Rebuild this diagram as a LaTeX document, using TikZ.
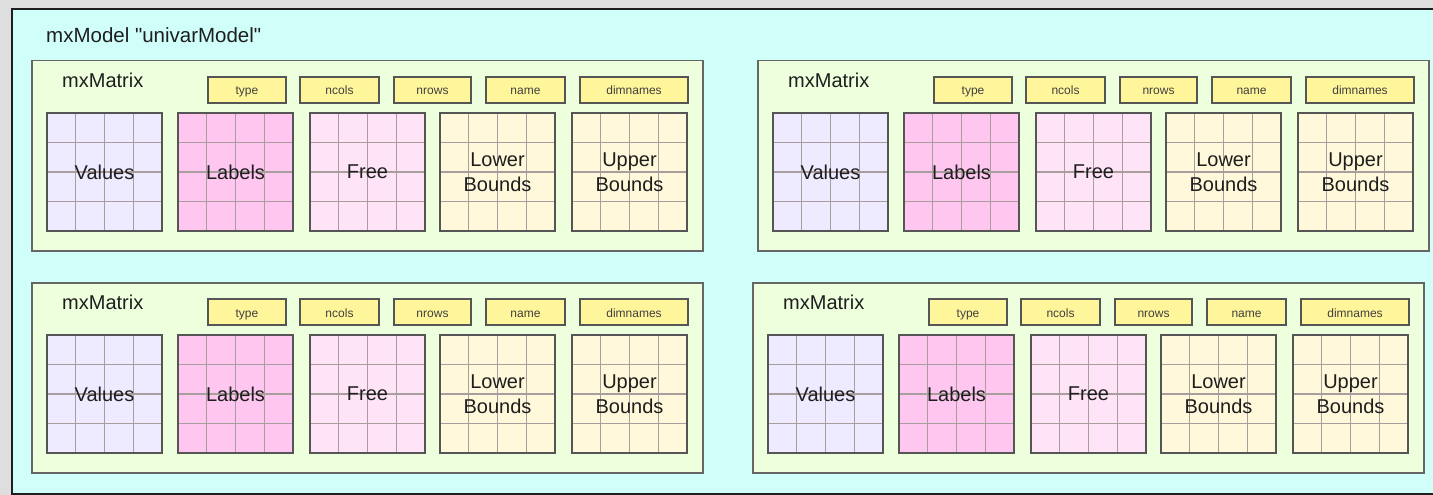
\documentclass[tikz,border=0pt]{standalone}
\usepackage{fontspec}
\setmainfont{Liberation Sans}
\usetikzlibrary{calc}

\definecolor{pagebg}{HTML}{DEDEDE}
\definecolor{modelbg}{HTML}{D0FFFA}
\definecolor{panelbg}{HTML}{EEFFDD}
\definecolor{attrbg}{HTML}{FFF59A}
\definecolor{valbg}{HTML}{EEEAFF}
\definecolor{labbg}{HTML}{FFC6F0}
\definecolor{freebg}{HTML}{FFE4F8}
\definecolor{boundbg}{HTML}{FFF8DA}
\definecolor{cellgray}{HTML}{A89E9E}
\definecolor{boxgray}{HTML}{555555}
\definecolor{inkgray}{HTML}{1E1E1E}

\begin{document}
\begin{tikzpicture}[x=1pt,y=-1pt,
  panel/.style={draw=boxgray!90,line width=1.5pt,fill=panelbg,minimum width=671pt,minimum height=190pt,anchor=north west,inner sep=0pt},
  attr/.style={draw=boxgray,line width=1.5pt,fill=attrbg,minimum height=26pt,inner sep=0pt,text height=11pt,text depth=1pt,text=inkgray!85,font=\fontsize{12}{14}\selectfont},
  cellline/.style={draw=cellgray,line width=1.3pt},
  cellbox/.style={draw=boxgray,line width=2pt,fill=#1,minimum width=115pt,minimum height=118pt,inner sep=0pt,align=center,text=inkgray,font=\fontsize{20}{25}\selectfont,
    path picture={
      \foreach \k in {1,2,3}{
        \draw[cellline] ($(path picture bounding box.north west)!\k/4!(path picture bounding box.north east)$) -- ($(path picture bounding box.south west)!\k/4!(path picture bounding box.south east)$);
        \draw[cellline] ($(path picture bounding box.north west)!\k/4!(path picture bounding box.south west)$) -- ($(path picture bounding box.north east)!\k/4!(path picture bounding box.south east)$);
      }}},
  heading/.style={anchor=west,inner sep=0pt,text=inkgray,font=\fontsize{20}{24}\selectfont}]
\useasboundingbox (0,0) rectangle (1433,495);
\clip (0,0) rectangle (1433,495);
\fill[pagebg] (0,0) rectangle (1433,495);
% the model
\node[draw=inkgray,line width=2pt,fill=modelbg,anchor=north west,minimum width=1440pt,minimum height=485pt,inner sep=0pt] (model) at (11,8) {};
\node[heading,font=\fontsize{20.5}{24}\selectfont] (modeltitle) at (46,35) {mxModel \textquotedbl univarModel\textquotedbl};
% the four matrices
\foreach \p/\px/\py in {1/31/60, 2/757/60, 3/31/282, 4/752/282}{
  \node[panel] (mat\p) at (\px,\py) {};
  \node[heading] (mattitle\p) at ({\px+31},{\py+20}) {mxMatrix};
  \foreach \a/\ax/\aw in {type/216/78, ncols/308.5/79, nrows/401.5/77, name/494.5/79, dimnames/603/108}
    \node[attr,minimum width=\aw pt] (\a\p) at ({\px+\ax},{\py+30}) {\a};
  \foreach \g/\gx/\gc/\gt in {val/73.5/valbg/Values, lab/204.5/labbg/Labels, free/336.5/freebg/Free, lbound/466.5/boundbg/{Lower\\Bounds}, ubound/598.5/boundbg/{Upper\\Bounds}}
    \node[cellbox=\gc] (\g\p) at ({\px+\gx},{\py+112}) {\gt};
}
\end{tikzpicture}
\end{document}
